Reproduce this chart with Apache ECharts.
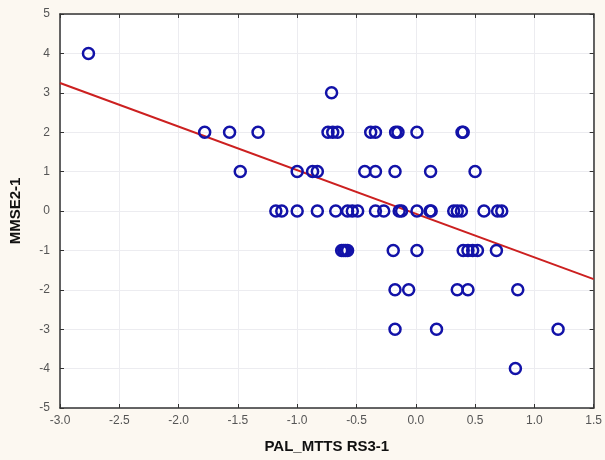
<!DOCTYPE html>
<html>
<head>
<meta charset="utf-8">
<script src="https://cdn.jsdelivr.net/npm/echarts@6/dist/echarts.min.js"></script>
<style>
html,body{margin:0;padding:0;background:#fcf8f1;}
#c{width:605px;height:460px;}
</style>
</head>
<body>
<div id="c"></div>
<script>
// Scatter points: PAL_MTTS RS3-1 (x) vs MMSE2-1 (y)
const pointsX = [
  -2.76,
  -0.71,
  -1.78, -1.57, -1.33, -0.74, -0.70, -0.66, -0.38, -0.34, -0.17, -0.15, 0.01, 0.39, 0.40,
  -1.48, -1.00, -0.87, -0.83, -0.43, -0.34, -0.175, 0.125, 0.50,
  -1.18, -1.13, -1.00, -0.83, -0.675, -0.575, -0.535, -0.49, -0.34, -0.27, -0.14, -0.12, 0.01, 0.12, 0.13, 0.32, 0.35, 0.385, 0.575, 0.69, 0.725,
  -0.625, -0.608, -0.592, -0.575, -0.19, 0.01, 0.40, 0.44, 0.48, 0.52, 0.68,
  -0.175, -0.06, 0.35, 0.44, 0.86,
  -0.175, 0.175, 1.20,
  0.84
];
const pointsY = [
  4,
  3,
  2, 2, 2, 2, 2, 2, 2, 2, 2, 2, 2, 2, 2,
  1, 1, 1, 1, 1, 1, 1, 1, 1,
  0, 0, 0, 0, 0, 0, 0, 0, 0, 0, 0, 0, 0, 0, 0, 0, 0, 0, 0, 0, 0,
  -1, -1, -1, -1, -1, -1, -1, -1, -1, -1, -1,
  -2, -2, -2, -2, -2,
  -3, -3, -3,
  -4
];
// Fitted regression line endpoints
const fitX = [-3.0, 1.5];
const fitY = [3.25, -1.73];

const xTicks = ['-3.0','-2.5','-2.0','-1.5','-1.0','-0.5','0.0','0.5','1.0','1.5'];
const yTicks = ['-5','-4','-3','-2','-1','0','1','2','3','4','5'];

const scatterData = pointsX.map((x, i) => [x, pointsY[i]]);
const lineData = fitX.map((x, i) => [x, fitY[i]]);

const chart = echarts.init(document.getElementById('c'), null, {renderer: 'canvas'});
const labelStyle = {color: '#555', fontFamily: 'Arial, Liberation Sans, sans-serif', fontSize: 12};
const nameStyle = {color: '#111', fontWeight: 'bold', fontSize: 15, fontFamily: 'Arial, Liberation Sans, sans-serif'};
chart.setOption({
  backgroundColor: '#fcf8f1',
  animation: false,
  grid: {left: 54, right: 10, top: 14, bottom: 52, show: true, backgroundColor: '#ffffff', borderWidth: 0},
  xAxis: [{
    type: 'value', min: -3, max: 1.5, interval: 0.5,
    name: 'PAL_MTTS RS3-1', nameLocation: 'middle', nameGap: 31, nameTextStyle: nameStyle,
    axisLine: {show: true, onZero: false, lineStyle: {color: '#333', width: 1.5}},
    axisTick: {show: true, inside: true, length: 4, lineStyle: {color: '#333'}},
    axisLabel: Object.assign({margin: 7, formatter: v => xTicks[Math.round((v + 3) / 0.5)]}, labelStyle),
    splitLine: {show: true, lineStyle: {color: '#ececf0', width: 1}}
  }, {
    type: 'value', min: -3, max: 1.5, interval: 0.5, position: 'top',
    axisLine: {show: true, onZero: false, lineStyle: {color: '#333', width: 1.5}},
    axisTick: {show: true, inside: true, length: 4, lineStyle: {color: '#333'}},
    axisLabel: {show: false}, splitLine: {show: false}
  }],
  yAxis: [{
    type: 'value', min: -5, max: 5, interval: 1,
    name: 'MMSE2-1', nameLocation: 'middle', nameGap: 37, nameTextStyle: nameStyle,
    axisLine: {show: true, onZero: false, lineStyle: {color: '#333', width: 1.5}},
    axisTick: {show: true, inside: true, length: 4, lineStyle: {color: '#333'}},
    axisLabel: Object.assign({margin: 10, formatter: v => yTicks[Math.round(v + 5)]}, labelStyle),
    splitLine: {show: true, lineStyle: {color: '#ececf0', width: 1}}
  }, {
    type: 'value', min: -5, max: 5, interval: 1, position: 'right',
    axisLine: {show: true, onZero: false, lineStyle: {color: '#333', width: 1.5}},
    axisTick: {show: true, inside: true, length: 4, lineStyle: {color: '#333'}},
    axisLabel: {show: false}, splitLine: {show: false}
  }],
  series: [{
    type: 'line', data: lineData, showSymbol: false, symbol: 'none',
    lineStyle: {color: '#cc2020', width: 2}, z: 2
  }, {
    type: 'scatter', data: scatterData, symbol: 'circle', symbolSize: 11,
    itemStyle: {color: 'rgba(0,0,0,0)', borderColor: '#1212a8', borderWidth: 2.5, opacity: 1}, z: 3
  }]
});
</script>
</body>
</html>
